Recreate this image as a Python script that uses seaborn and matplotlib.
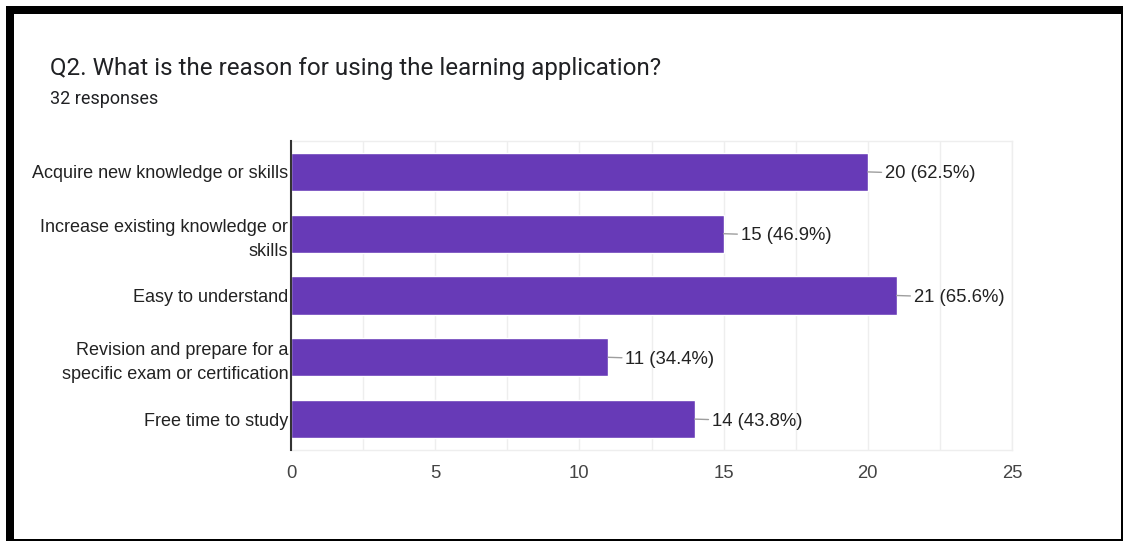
import matplotlib
matplotlib.use("Agg")
import matplotlib.pyplot as plt
from matplotlib.patches import Rectangle
import seaborn as sns
import pandas as pd

categories = [
    "Acquire new knowledge or skills",
    "Increase existing knowledge or\nskills",
    "Easy to understand",
    "Revision and prepare for a\nspecific exam or certification",
    "Free time to study",
]
counts = [20, 15, 21, 11, 14]
percents = [62.5, 46.9, 65.6, 34.4, 43.8]
x_ticks = [0, 5, 10, 15, 20, 25]

title = "Q2. What is the reason for using the learning application?"
subtitle = "32 responses"

sns.set_theme(style="white")
plt.rcParams["font.family"] = ["Liberation Sans", "DejaVu Sans"]
head_font = ["Roboto", "DejaVu Sans"]

W, H = 1124, 542
fig = plt.figure(figsize=(W / 100, H / 100), dpi=100)
fig.patch.set_facecolor("white")

# plot area in pixel coordinates
left, right, top, bottom = 291, 1012, 141, 450
ax = fig.add_axes([left / W, 1 - bottom / H, (right - left) / W, (bottom - top) / H])

df = pd.DataFrame({"reason": categories, "count": counts})
sns.barplot(data=df, x="count", y="reason", orient="h", color="#673ab7",
            saturation=1, width=0.62, ax=ax, zorder=3)

ax.set_xlim(0, 25)
ax.set_xticks(x_ticks)
ax.set_xticks([t + 2.5 for t in x_ticks[:-1]], minor=True)
ax.grid(axis="x", which="both", color="#eeeeee", lw=1, zorder=0)
ax.grid(axis="y", visible=False)
ax.set_xlabel("")
ax.set_ylabel("")

for name, sp in ax.spines.items():
    sp.set_visible(True)
    sp.set_color("#eeeeee")
    sp.set_linewidth(1)
ax.spines["left"].set_color("#333333")
ax.spines["left"].set_linewidth(1.5)
ax.spines["left"].set_zorder(5)

ax.tick_params(axis="x", which="both", length=0, pad=11, labelsize=13.3, labelcolor="#444444")
ax.tick_params(axis="y", length=0, pad=2, labelsize=13, labelcolor="#222222")
for lab in ax.get_yticklabels():
    lab.set_horizontalalignment("right")
    lab.set_linespacing(1.55)

for i, (c, p) in enumerate(zip(counts, percents)):
    ax.annotate(f"{c} ({p}%)", xy=(c, i), xytext=(17, 0), textcoords="offset pixels",
                va="center_baseline", ha="left", fontsize=13.3, color="#222222",
                arrowprops=dict(arrowstyle="-", color="#9e9e9e", lw=1,
                                shrinkA=0, shrinkB=0))

fig.text(50 / W, 1 - 68 / H, title, fontsize=17.4, color="#202124",
         va="center", ha="left", family=head_font)
fig.text(50 / W, 1 - 99 / H, subtitle, fontsize=13, color="#202124",
         va="center", ha="left", family=head_font)

# black frame around the card
frame = dict(transform=None, color="black", lw=0, zorder=10)
fig.patches.append(Rectangle((6, H - 14), W - 7, 8, **frame))   # top
fig.patches.append(Rectangle((6, 1), 8, H - 7, **frame))        # left
fig.patches.append(Rectangle((W - 3, 1), 2, H - 7, **frame))    # right
fig.patches.append(Rectangle((6, 1), W - 7, 2, **frame))        # bottom

fig.savefig("out.png", dpi=100, facecolor="white")
